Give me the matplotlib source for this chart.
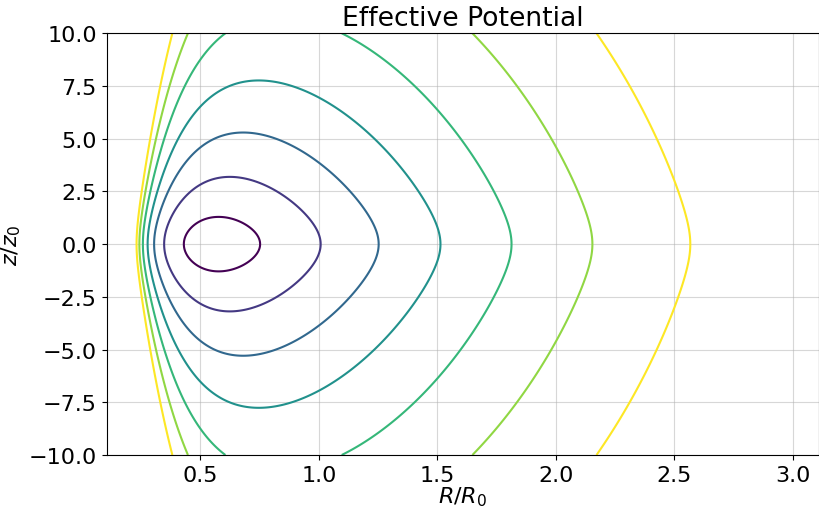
import numpy as np
import matplotlib.pyplot as plt

plt.rcParams['font.size'] = 16

# Miyamoto-Nagai disc (lengths in R0) plus angular momentum barrier
a_disc = 0.905
b_disc = 0.095
z0 = 0.076
Lz = 0.2565

levels = [-0.741, -0.672, -0.603, -0.537, -0.473, -0.414, -0.358]

R = np.linspace(0.105, 3.11, 700)
z = np.linspace(-10, 10, 700)
RR, ZZ = np.meshgrid(R, z)
phi = -1.0 / np.sqrt(RR**2 + (a_disc + np.sqrt((z0 * ZZ)**2 + b_disc**2))**2)
phi_eff = phi + Lz**2 / (2 * RR**2)

# viridis, evenly spaced over the levels
cols = plt.cm.viridis(np.linspace(0, 1, len(levels)))

fig = plt.figure(figsize=(8.2, 5.1), dpi=100)
ax = fig.add_axes([0.1301, 0.1059, 0.8687, 0.8269])
ax.contour(RR, ZZ, phi_eff, levels=levels, colors=cols, linewidths=1.5)
ax.grid(True, alpha=0.5)
ax.set_xlim(0.105, 3.11)
ax.set_ylim(-10, 10)
ax.set_xlabel(r'$R/R_0$', labelpad=0)
ax.set_ylabel(r'$z/z_0$')
ax.set_title('Effective Potential')

fig.savefig('out.png', dpi=100)
